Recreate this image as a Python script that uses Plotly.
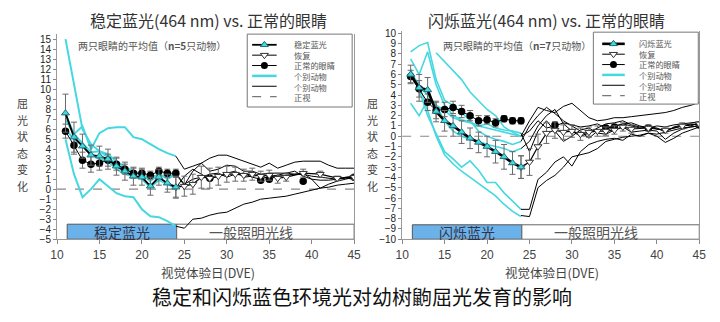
import plotly.graph_objects as go

# ---------------- data ----------------
days_light = [11, 12, 13, 14, 15, 16, 17, 18, 19, 20, 21, 22, 23, 24]
days_after = [24, 25, 26, 27, 28, 29, 30, 31, 32, 33, 34, 35, 36, 37, 38, 39, 40, 41, 42, 43, 44, 45]
rec_days = [24, 25, 26, 27, 28, 29, 30, 31, 32, 33, 34, 35, 36, 37, 39, 41, 43, 45]
normal_late_days = [28, 34, 35, 39, 45]

# Left panel: steady blue light (n=5)
L_mean = [7.6, 5.2, 4.3, 3.4, 3.3, 3.0, 2.3, 1.8, 1.3, 1.2, 0.3, 1.2, 0.6, 0.2]
L_mean_err = [1.9, 1.5, 1.2, 1.0, 1.0, 1.0, 0.9, 0.9, 0.9, 0.8, 0.9, 0.8, 0.9, 1.1]
L_normal = [5.8, 4.4, 2.9, 2.5, 2.6, 2.9, 2.5, 2.0, 1.6, 1.6, 1.4, 1.8, 1.6, 1.6]
L_normal_err = [0.7, 0.9, 0.8, 0.8, 0.7, 0.6, 0.6, 0.5, 0.5, 0.5, 0.4, 0.4, 0.4, 0.4]
L_normal_late = [1.1, 0.9, 1.0, 0.8, 1.2]
L_rec = [0.2, 0.3, 0.5, 1.2, 1.1, 1.3, 1.5, 1.5, 1.4, 1.5, 1.3, 1.4, 1.1, 1.2, 1.6, 1.5, 1.1, 1.2]
L_rec_err = [1.0, 1.0, 1.0, 1.1, 1.0, 0.9, 0.8, 0.7, 0.6, 0.6, 0.5, 0.5, 0.5, 0.4, 0.4, 0.3, 0.2, 0.2]
L_cyan = [
    [15.0, 10.5, 6.0, 4.5, 3.8, 3.5, 2.8, 2.2, 1.8, 1.5, 0.8, 1.6, 1.0, 1.5],
    [7.0, 5.5, 6.3, 4.0, 5.6, 6.1, 6.2, 6.2, 5.2, 5.0, 4.5, 4.0, 3.6, 3.3],
    [5.0, 1.5, -0.8, 0.0, 1.0, 0.3, -0.4, -0.7, -0.8, -2.0, -2.7, -2.8, -3.2, -3.7],
    [6.0, 5.0, 4.4, 3.5, 3.0, 2.8, 2.0, 1.5, 1.3, 1.0, 0.2, 0.9, 0.5, 0.1],
    [7.5, 5.5, 4.6, 3.7, 3.8, 3.2, 2.5, 2.0, 1.7, 1.3, 1.2, 1.4, 1.2, 1.6],
]
L_black = [
    [3.3, 2.0, 2.3, 2.6, 3.1, 3.4, 3.4, 3.1, 2.8, 2.5, 2.2, 2.6, 2.1, 2.4, 2.7, 2.8, 2.8, 2.8, 2.4, 2.1, 2.1, 2.1],
    [1.5, 0.4, 1.8, 2.6, 1.8, 2.0, 2.4, 2.3, 1.8, 1.8, 1.5, 1.6, 1.6, 1.6, 1.5, 1.6, 1.0, 0.1, 0.5, 0.8, 1.0, 1.2],
    [0.1, 1.3, 2.0, 1.5, 1.0, 1.3, 1.6, 1.8, 1.2, 1.3, 1.4, 1.0, 1.3, 1.4, 1.5, 1.5, 1.3, 1.2, 1.1, 1.0, 1.2, 1.3],
    [1.6, 0.5, 1.0, 1.2, 1.5, 1.6, 1.2, 1.5, 1.6, 1.2, 1.0, 1.3, 1.4, 1.6, 1.8, 1.3, 1.0, 0.9, 0.9, 1.0, 1.1, 1.0],
    [-3.7, -3.9, -3.0, -2.9, -2.6, -2.4, -2.3, -1.9, -1.5, -1.3, -1.0, -0.9, -0.8, -0.7, -0.5, -0.3, -0.1, 0.1, 0.2, 0.4, 0.5, 0.6],
]

# Right panel: flickering blue light (n=7)
R_mean = [6.0, 4.7, 4.5, 2.4, 1.5, 1.0, 0.4, -0.2, -0.6, -1.0, -1.5, -2.0, -2.6, -3.0]
R_mean_err = [0.9, 1.3, 1.2, 1.0, 1.0, 1.0, 1.1, 1.0, 1.0, 1.0, 1.1, 1.2, 1.1, 1.1]
R_normal = [5.8, 4.6, 3.3, 2.5, 2.6, 2.8, 2.4, 2.0, 1.5, 1.6, 1.3, 1.7, 1.5, 1.5]
R_normal_err = [0.6, 0.8, 0.8, 0.8, 0.7, 0.6, 0.6, 0.5, 0.5, 0.4, 0.4, 0.3, 0.3, 0.3]
R_normal_late = [1.1, 0.8, 0.9, 0.8, 1.1]
R_rec = [-3.0, -2.5, -1.0, 0.3, 0.6, 0.4, 0.5, 0.2, 0.4, 0.5, 0.5, 0.6, 0.9, 0.7, 0.8, 0.6, 1.0, 1.2]
R_rec_err = [1.1, 1.3, 1.2, 1.0, 0.8, 0.7, 0.6, 0.6, 0.5, 0.5, 0.4, 0.4, 0.4, 0.4, 0.3, 0.3, 0.3, 0.2]
R_cyan = [
    [8.2, 8.8, 9.1, 5.5, 3.5, 3.0, 2.3, 1.5, 0.5, 0.0, -0.3, -0.5, -0.8, -0.5],
    [7.5, 6.0, 8.2, 5.0, 3.0, 2.0, 1.6, 1.4, 1.0, 1.2, 0.8, 0.6, 0.5, 0.3],
    [None, None, None, 8.1, 7.2, 6.3, 5.5, 4.3, 3.4, 2.6, 2.0, 0.9, 0.4, 0.0],
    [6.5, 4.5, 2.0, 0.3, -1.5, -2.2, -3.0, -2.4, -3.3, -4.5, -4.5, -5.5, -6.3, -7.1],
    [6.0, 5.0, 2.5, 0.0, -1.8, -2.7, -3.4, -4.0, -4.6, -5.2, -5.8, -6.6, -7.3, -7.8],
    [3.2, 2.0, 3.5, 3.0, 2.5, 1.8, 1.5, 1.3, 1.0, 0.8, 0.6, 0.4, 0.2, 0.0],
    [6.2, 5.0, 4.0, 3.0, 1.5, 0.5, 0.0, -0.3, -0.5, -0.8, -1.0, -1.2, -1.5, -1.2],
]
R_black = [
    [0.0, 1.5, 2.8, 2.5, 2.3, 2.9, 3.2, 2.5, 1.8, 1.5, 1.6, 1.8, 1.8, 1.9, 2.0, 2.1, 2.2, 2.3, 2.5, 2.8, 3.0, 3.3],
    [-0.5, 1.0, 2.0, 2.8, 2.2, 1.5, 1.0, 0.5, -0.2, 0.5, 0.8, 1.0, 1.2, 1.0, 0.8, 0.9, 0.8, 0.4, 0.9, 1.1, 1.0, 1.3],
    [-1.2, -0.5, 1.0, 2.0, 2.6, 1.2, 0.5, 0.0, 0.3, 0.8, 1.2, 1.3, 1.5, 1.1, 0.9, 1.0, 0.7, 0.6, 0.8, 1.0, 1.2, 1.1],
    [-7.1, -7.1, -4.2, -3.5, -2.5, -2.0, -2.9, -1.5, -0.8, -0.5, -0.3, -0.2, -0.4, 0.2, 0.0, 0.3, 0.0, -0.6, -0.2, 0.3, 0.6, 0.9],
    [-7.7, -7.8, -5.0, -4.3, -3.8, -3.0, -2.0, -1.8, -1.6, -1.2, -0.5, -0.3, -0.1, 0.0, 0.1, 0.3, 0.2, 0.4, 0.6, 0.8, 0.9, 1.0],
    [0.3, -1.5, 0.5, 1.5, 0.5, -0.5, 0.0, 0.6, 0.8, 0.3, 0.2, 0.6, 0.9, 0.4, 0.5, 0.6, 0.5, -0.3, 0.3, 0.7, 0.9, 1.0],
    [0.0, 0.5, 1.5, 0.8, 1.0, 1.3, 1.1, 0.9, 1.0, 1.2, 0.8, 0.9, 1.2, 1.3, 1.0, 0.8, 1.0, 0.9, 1.1, 1.2, 1.3, 1.4],
]

titles = ["稳定蓝光(464 nm) vs. 正常的眼睛", "闪烁蓝光(464 nm) vs. 正常的眼睛"]
light_labels = ["稳定蓝光", "闪烁蓝光"]
normal_light_label = "一般照明光线"
n_notes = ["两只眼睛的平均值（<b>n=5</b>只动物）", "两只眼睛的平均值（<b>n=7</b>只动物）"]
legend_labels = [["稳定蓝光", "恢复", "正常的眼睛", "个别动物", "个别动物", "正视"],
                 ["闪烁蓝光", "恢复", "正常的眼睛", "个别动物", "个别动物", "正视"]]
ytitle_chars = list("屈光状态变化")
xtitle = "视觉体验日(DVE)"
main_title = "稳定和闪烁蓝色环境光对幼树鼩屈光发育的影响"
x_ticks = [10, 15, 20, 25, 30, 35, 40, 45]

# ---------------- style ----------------
W, H = 720, 322
CYAN = "#45d8e0"
BAR_BLUE = "#6cb2ea"
ERR = "#6a6a6a"
FONT = "Arial, Liberation Sans, Noto Sans CJK SC"
CJK = "Noto Sans CJK SC"
LEG_FS = 8.2           # legend font size; plotly line spacing is 1.3em
LEG_STEP = LEG_FS * 1.3


def px(x):
    return x / W


def py(y):
    return 1 - y / H


def ann(x, y, text, size, color, xanchor="center", xref="paper", yref="paper", family=CJK, yanchor="middle"):
    return dict(xref=xref, yref=yref, x=x, y=y, text=text, showarrow=False,
                xanchor=xanchor, yanchor=yanchor, font=dict(size=size, color=color, family=family))


fig = go.Figure()

panels = [
    dict(xa="x", ya="y", mean=L_mean, mean_err=L_mean_err, normal=L_normal, normal_err=L_normal_err,
         normal_late=L_normal_late, rec=L_rec, rec_err=L_rec_err, cyan=L_cyan, black=L_black,
         mean_w=1.8, cyan_w=2, bar=(-3.5, -5)),
    dict(xa="x2", ya="y2", mean=R_mean, mean_err=R_mean_err, normal=R_normal, normal_err=R_normal_err,
         normal_late=R_normal_late, rec=R_rec, rec_err=R_rec_err, cyan=R_cyan, black=R_black,
         mean_w=2.6, cyan_w=1.6, bar=(-8.6, -10)),
]

MEAN_MARK = dict(symbol="triangle-up", size=7, color=CYAN, line=dict(color="#1d6f75", width=1))
REC_MARK = dict(symbol="triangle-down", size=7, color="white", line=dict(color="#333", width=1))
NORM_MARK = dict(symbol="circle", size=7.5, color="black")

for p in panels:
    for ys in p["cyan"]:
        fig.add_trace(go.Scatter(x=days_light, y=ys, mode="lines", line=dict(color=CYAN, width=p["cyan_w"]),
                                 xaxis=p["xa"], yaxis=p["ya"], showlegend=False, hoverinfo="skip"))
    for ys in p["black"]:
        fig.add_trace(go.Scatter(x=days_after, y=ys, mode="lines", line=dict(color="black", width=1),
                                 xaxis=p["xa"], yaxis=p["ya"], showlegend=False, hoverinfo="skip"))
    fig.add_trace(go.Scatter(x=days_light, y=p["normal"], mode="lines+markers",
                             line=dict(color="black", width=1), marker=NORM_MARK,
                             error_y=dict(type="data", array=p["normal_err"], color=ERR, thickness=1, width=3),
                             xaxis=p["xa"], yaxis=p["ya"], showlegend=False))
    fig.add_trace(go.Scatter(x=normal_late_days, y=p["normal_late"], mode="markers", marker=NORM_MARK,
                             xaxis=p["xa"], yaxis=p["ya"], showlegend=False))
    fig.add_trace(go.Scatter(x=rec_days, y=p["rec"], mode="lines+markers",
                             line=dict(color="black", width=1.2), marker=REC_MARK,
                             error_y=dict(type="data", array=p["rec_err"], color=ERR, thickness=1, width=3),
                             xaxis=p["xa"], yaxis=p["ya"], showlegend=False))
    fig.add_trace(go.Scatter(x=days_light, y=p["mean"], mode="lines+markers",
                             line=dict(color="black", width=p["mean_w"]), marker=MEAN_MARK,
                             error_y=dict(type="data", array=p["mean_err"], color=ERR, thickness=1, width=3),
                             xaxis=p["xa"], yaxis=p["ya"], showlegend=False))

# hand-drawn legends on an overlay pixel axis
legend_boxes = [(245, 32, 352, 107, 250, 275, 292, 43), (598, 30, 705, 104, 607, 630, 643, 42)]
shapes = []
annotations = []
for i, (bx0, by0, bx1, by1, lx0, lx1, tx, ty0) in enumerate(legend_boxes):
    shapes.append(dict(type="rect", xref="x3", yref="y3", x0=bx0, y0=by0, x1=bx1, y1=by1,
                       line=dict(color="#777", width=1), fillcolor="white", layer="below"))
    mw = panels[i]["mean_w"]
    line_styles = [dict(color="black", width=mw), dict(color="black", width=1), dict(color="black", width=1),
                   dict(color=CYAN, width=2.5), dict(color="black", width=1),
                   dict(color="#777", width=1.2, dash="dash")]
    marks = [MEAN_MARK, REC_MARK, dict(NORM_MARK, size=7), None, None, None]
    for r in range(6):
        yy = ty0 + r * LEG_STEP
        fig.add_trace(go.Scatter(x=[lx0, lx1], y=[yy, yy], mode="lines", line=line_styles[r],
                                 xaxis="x3", yaxis="y3", showlegend=False, hoverinfo="skip"))
        if marks[r] is not None:
            fig.add_trace(go.Scatter(x=[(lx0 + lx1) / 2], y=[yy], mode="markers", marker=marks[r],
                                     xaxis="x3", yaxis="y3", showlegend=False, hoverinfo="skip"))
    annotations.append(dict(xref="x3", yref="y3", x=tx, y=ty0 + 2.5 * LEG_STEP,
                            text="<br>".join(legend_labels[i]), showarrow=False, align="left",
                            xanchor="left", yanchor="middle", borderpad=0,
                            font=dict(size=LEG_FS, color="#555", family=CJK)))

# bars and zero line
for i, p in enumerate(panels):
    xa, ya = p["xa"], p["ya"]
    b0, b1 = p["bar"]
    shapes.append(dict(type="rect", xref=xa, yref=ya, x0=11.2, x1=24.1, y0=b0, y1=b1,
                       fillcolor=BAR_BLUE, line=dict(color="#555", width=1), layer="below"))
    shapes.append(dict(type="rect", xref=xa, yref=ya, x0=24.1, x1=45, y0=b0, y1=b1,
                       fillcolor="white", line=dict(color="#666", width=1), layer="below"))
    shapes.append(dict(type="line", xref=xa + " domain", yref=ya, x0=0, x1=1, y0=0, y1=0,
                       line=dict(color="#888", width=1.2, dash="dash"), layer="below"))
    annotations.append(ann((11.2 + 24.1) / 2, (b0 + b1) / 2, light_labels[i], 14, "#334", xref=xa, yref=ya))
    annotations.append(ann(32.8, (b0 + b1) / 2, normal_light_label, 14, "#555", xref=xa, yref=ya))

title_x = [205, 550]
for i in range(2):
    annotations.append(ann(px(title_x[i]), py(17), titles[i], 16, "#333"))
    annotations.append(dict(ann(px([205, 556][i]), py(277), xtitle, 12.5, "#444"), borderpad=0))
    annotations.append(ann(px([70, 443][i]), py(44), n_notes[i], 10, "#555", xanchor="left"))
    for k, ch in enumerate(ytitle_chars):
        annotations.append(dict(ann(px([16, 373][i]), py(103 + k * 17), ch, 11, "#444"), borderpad=0))

annotations.append(ann(px(362), py(302), main_title, 20, "#111"))

axis_common_x = dict(range=[10, 45], tickvals=x_ticks, ticks="outside", ticklen=4, tickcolor="#888",
                     showline=True, linecolor="#999", linewidth=1, showgrid=False, zeroline=False,
                     tickfont=dict(size=12, color="#444", family=FONT))
axis_common_y = dict(ticks="outside", ticklen=3, tickcolor="#888", showline=True, linecolor="#999",
                     linewidth=1, mirror=True, showgrid=False, zeroline=False,
                     tickfont=dict(size=10, color="#222", family=FONT))

fig.update_layout(
    width=W, height=H, margin=dict(l=0, r=0, t=0, b=0),
    paper_bgcolor="white", plot_bgcolor="rgba(0,0,0,0)",
    font=dict(family=FONT),
    xaxis=dict(axis_common_x, domain=[px(51), px(354)], anchor="y"),
    yaxis=dict(axis_common_y, domain=[py(243), py(32)], range=[-5, 15.5], tickvals=list(range(-5, 16)), anchor="x"),
    xaxis2=dict(axis_common_x, domain=[px(403), px(706)], anchor="y2"),
    yaxis2=dict(axis_common_y, domain=[py(243), py(29)], range=[-10, 10.2], tickvals=list(range(-10, 11)), anchor="x2"),
    xaxis3=dict(domain=[0, 1], range=[0, W], visible=False, anchor="y3", fixedrange=True),
    yaxis3=dict(domain=[0, 1], range=[H, 0], visible=False, anchor="x3", fixedrange=True),
    shapes=shapes, annotations=annotations, showlegend=False,
)

fig.write_html("out.html")
